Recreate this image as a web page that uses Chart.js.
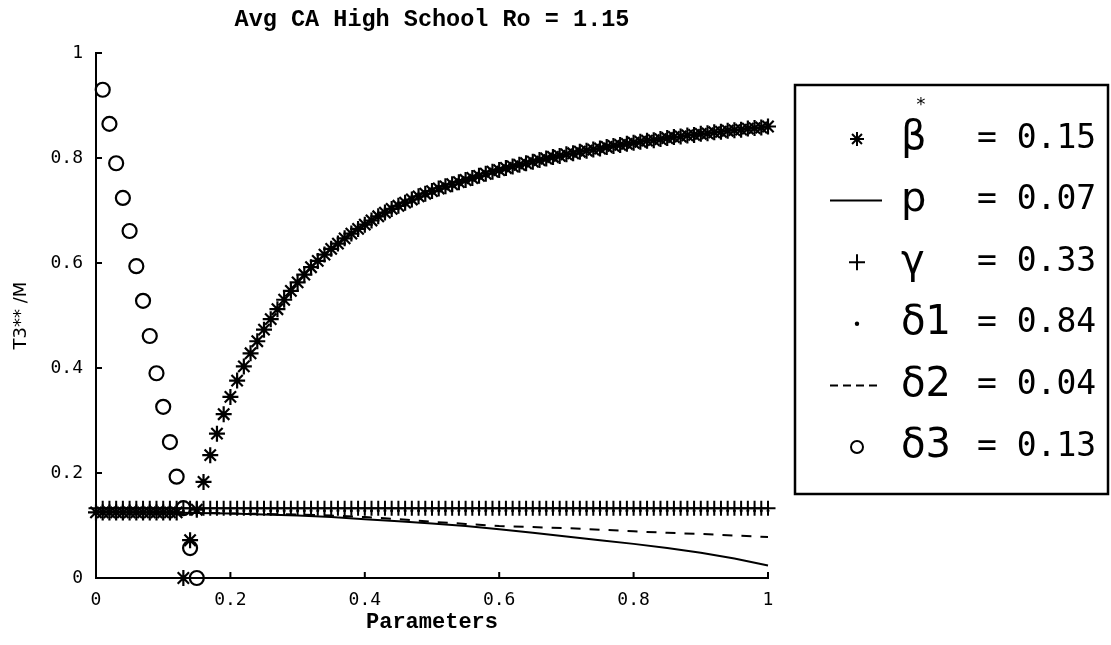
<!DOCTYPE html>
<html>
<head>
<meta charset="utf-8">
<script src="https://cdn.jsdelivr.net/npm/chart.js@4/dist/chart.umd.min.js"></script>
<style>
  html, body { margin: 0; padding: 0; background: #fff; }
  #wrap { width: 1111px; height: 645px; position: relative; }
</style>
</head>
<body>
<div id="wrap"><canvas id="t3-chart"></canvas></div>
<script>
// x grid the model was evaluated on (step 0.01)
const paramX = [
  0.00, 0.01, 0.02, 0.03, 0.04, 0.05, 0.06, 0.07, 0.08, 0.09,
  0.10, 0.11, 0.12, 0.13, 0.14, 0.15, 0.16, 0.17, 0.18, 0.19,
  0.20, 0.21, 0.22, 0.23, 0.24, 0.25, 0.26, 0.27, 0.28, 0.29,
  0.30, 0.31, 0.32, 0.33, 0.34, 0.35, 0.36, 0.37, 0.38, 0.39,
  0.40, 0.41, 0.42, 0.43, 0.44, 0.45, 0.46, 0.47, 0.48, 0.49,
  0.50, 0.51, 0.52, 0.53, 0.54, 0.55, 0.56, 0.57, 0.58, 0.59,
  0.60, 0.61, 0.62, 0.63, 0.64, 0.65, 0.66, 0.67, 0.68, 0.69,
  0.70, 0.71, 0.72, 0.73, 0.74, 0.75, 0.76, 0.77, 0.78, 0.79,
  0.80, 0.81, 0.82, 0.83, 0.84, 0.85, 0.86, 0.87, 0.88, 0.89,
  0.90, 0.91, 0.92, 0.93, 0.94, 0.95, 0.96, 0.97, 0.98, 0.99,
  1.00
]

// beta* (asterisks)
const betaStar = [
  0.125, 0.125, 0.125, 0.125, 0.125, 0.125, 0.125, 0.125, 0.125, 0.125,
  0.125, 0.125, 0.125, 0.000, 0.072, 0.130, 0.183, 0.234, 0.275, 0.312,
  0.345, 0.376, 0.403, 0.428, 0.451, 0.473, 0.493, 0.512, 0.530, 0.547,
  0.563, 0.578, 0.592, 0.604, 0.616, 0.627, 0.637, 0.647, 0.656, 0.665,
  0.673, 0.681, 0.689, 0.696, 0.703, 0.709, 0.715, 0.721, 0.727, 0.732,
  0.737, 0.742, 0.746, 0.750, 0.754, 0.758, 0.762, 0.766, 0.770, 0.774,
  0.777, 0.781, 0.784, 0.787, 0.790, 0.793, 0.796, 0.799, 0.802, 0.804,
  0.807, 0.809, 0.812, 0.814, 0.816, 0.818, 0.821, 0.823, 0.825, 0.827,
  0.829, 0.831, 0.833, 0.834, 0.836, 0.838, 0.840, 0.841, 0.843, 0.844,
  0.846, 0.847, 0.849, 0.850, 0.852, 0.853, 0.854, 0.856, 0.857, 0.858,
  0.860
]

// gamma (plus signs) - flat
const gammaVals = [
  0.133, 0.133, 0.133, 0.133, 0.133, 0.133, 0.133, 0.133, 0.133, 0.133,
  0.133, 0.133, 0.133, 0.133, 0.133, 0.133, 0.133, 0.133, 0.133, 0.133,
  0.133, 0.133, 0.133, 0.133, 0.133, 0.133, 0.133, 0.133, 0.133, 0.133,
  0.133, 0.133, 0.133, 0.133, 0.133, 0.133, 0.133, 0.133, 0.133, 0.133,
  0.133, 0.133, 0.133, 0.133, 0.133, 0.133, 0.133, 0.133, 0.133, 0.133,
  0.133, 0.133, 0.133, 0.133, 0.133, 0.133, 0.133, 0.133, 0.133, 0.133,
  0.133, 0.133, 0.133, 0.133, 0.133, 0.133, 0.133, 0.133, 0.133, 0.133,
  0.133, 0.133, 0.133, 0.133, 0.133, 0.133, 0.133, 0.133, 0.133, 0.133,
  0.133, 0.133, 0.133, 0.133, 0.133, 0.133, 0.133, 0.133, 0.133, 0.133,
  0.133, 0.133, 0.133, 0.133, 0.133, 0.133, 0.133, 0.133, 0.133, 0.133,
  0.133
]

// delta1 (dots) - sits on the flat band
const delta1Vals = [
  0.128, 0.128, 0.128, 0.128, 0.128, 0.128, 0.128, 0.128, 0.128, 0.128,
  0.128, 0.128, 0.128, 0.128, 0.128, 0.128, 0.128, 0.128, 0.128, 0.128,
  0.128, 0.128, 0.128, 0.128, 0.128, 0.128, 0.128, 0.128, 0.128, 0.128,
  0.128, 0.128, 0.128, 0.128, 0.128, 0.128, 0.128, 0.128, 0.128, 0.128,
  0.128, 0.128, 0.128, 0.128, 0.128, 0.128, 0.128, 0.128, 0.128, 0.128,
  0.128, 0.128, 0.128, 0.128, 0.128, 0.128, 0.128, 0.128, 0.128, 0.128,
  0.128, 0.128, 0.128, 0.128, 0.128, 0.128, 0.128, 0.128, 0.128, 0.128,
  0.128, 0.128, 0.128, 0.128, 0.128, 0.128, 0.128, 0.128, 0.128, 0.128,
  0.128, 0.128, 0.128, 0.128, 0.128, 0.128, 0.128, 0.128, 0.128, 0.128,
  0.128, 0.128, 0.128, 0.128, 0.128, 0.128, 0.128, 0.128, 0.128, 0.128,
  0.128
]

// p (solid) and delta2 (dashed), read every 0.05
const lineX = [0.00, 0.05, 0.10, 0.15, 0.20, 0.25, 0.30, 0.35, 0.40, 0.45, 0.50,
               0.55, 0.60, 0.65, 0.70, 0.75, 0.80, 0.85, 0.90, 0.95, 1.00]
const pVals = [0.126, 0.125, 0.125, 0.124, 0.123, 0.121, 0.119, 0.116, 0.112, 0.108, 0.104,
               0.099, 0.093, 0.086, 0.079, 0.072, 0.065, 0.057, 0.048, 0.037, 0.024]
const delta2Vals = [0.126, 0.125, 0.125, 0.124, 0.123, 0.122, 0.121, 0.119, 0.116, 0.112, 0.107,
                    0.103, 0.099, 0.097, 0.095, 0.092, 0.089, 0.086, 0.084, 0.081, 0.078]

// delta3 (circles)
const delta3X = [0.01, 0.02, 0.03, 0.04, 0.05, 0.06, 0.07, 0.08, 0.09, 0.10, 0.11, 0.12, 0.13, 0.14, 0.15]
const delta3Vals = [0.930, 0.865, 0.790, 0.724, 0.661, 0.594, 0.528, 0.461, 0.390, 0.326, 0.259, 0.193, 0.133, 0.057, 0.000]

const tickValues = [0, 0.2, 0.4, 0.6, 0.8, 1]
const tickLabels = ["0", "0.2", "0.4", "0.6", "0.8", "1"]

const legendNames = ["β", "p", "γ", "δ1", "δ2", "δ3"]
const legendValues = ["0.15", "0.07", "0.33", "0.84", "0.04", "0.13"]
const legendSymbols = ["star", "line", "cross", "dot", "dash", "circle"]

const titleText = "Avg CA High School Ro = 1.15"

const pts = (xs, ys) => xs.map((x, i) => ({ x: x, y: ys[i] }))

function drawSymbol(ctx, kind, x, y) {
  ctx.save()
  ctx.strokeStyle = "#000"
  ctx.fillStyle = "#000"
  ctx.lineWidth = 2
  ctx.beginPath()
  if (kind === "star") {
    const r = 7, d = r * Math.SQRT1_2
    ctx.moveTo(x - r, y); ctx.lineTo(x + r, y)
    ctx.moveTo(x, y - r); ctx.lineTo(x, y + r)
    ctx.moveTo(x - d, y - d); ctx.lineTo(x + d, y + d)
    ctx.moveTo(x - d, y + d); ctx.lineTo(x + d, y - d)
    ctx.stroke()
  } else if (kind === "line") {
    ctx.moveTo(830, y); ctx.lineTo(882, y); ctx.stroke()
  } else if (kind === "cross") {
    ctx.moveTo(x - 8, y); ctx.lineTo(x + 8, y)
    ctx.moveTo(x, y - 8); ctx.lineTo(x, y + 8)
    ctx.stroke()
  } else if (kind === "dot") {
    ctx.arc(x, y, 2.2, 0, Math.PI * 2); ctx.fill()
  } else if (kind === "dash") {
    ctx.setLineDash([8, 5])
    ctx.moveTo(830, y); ctx.lineTo(882, y); ctx.stroke()
  } else if (kind === "circle") {
    ctx.arc(x, y, 6, 0, Math.PI * 2); ctx.stroke()
  }
  ctx.restore()
}

// title, inward ticks and the boxed legend, MATLAB style
const matlabDecor = {
  id: "matlabDecor",
  afterDraw(chart) {
    const { ctx, chartArea, scales } = chart
    ctx.save()
    ctx.strokeStyle = "#000"
    ctx.lineWidth = 2
    ctx.beginPath()
    tickValues.forEach((v) => {
      const px = scales.x.getPixelForValue(v)
      ctx.moveTo(px, chartArea.bottom); ctx.lineTo(px, chartArea.bottom - 6)
      const py = scales.y.getPixelForValue(v)
      ctx.moveTo(chartArea.left, py); ctx.lineTo(chartArea.left + 6, py)
    })
    ctx.stroke()

    ctx.fillStyle = "#000"
    ctx.font = "bold 23.5px 'Liberation Mono'"
    ctx.textAlign = "center"
    ctx.textBaseline = "alphabetic"
    ctx.fillText(titleText, (chartArea.left + chartArea.right) / 2, 26)

    ctx.lineWidth = 2.5
    ctx.strokeRect(795, 85, 313, 409)

    legendNames.forEach((name, i) => {
      const y = 139 + i * 61.6
      drawSymbol(ctx, legendSymbols[i], 857, y)
      ctx.textAlign = "left"
      ctx.textBaseline = "middle"
      ctx.font = "40px 'DejaVu Sans'"
      ctx.fillText(name, 901, y)
      ctx.font = "33px 'DejaVu Sans Mono'"
      ctx.fillText("= " + legendValues[i], 977, y)
    })
    ctx.font = "18px 'DejaVu Sans Mono'"
    ctx.textAlign = "center"
    ctx.fillText("*", 921, 105)
    ctx.restore()
  },
}

const tickOpts = {
  font: { family: "'DejaVu Sans Mono'", size: 18 },
  color: "#000",
  autoSkip: false,
  maxRotation: 0,
  callback: (value) => {
    const i = tickValues.findIndex((t) => Math.abs(t - value) < 1e-9)
    return i >= 0 ? tickLabels[i] : ""
  },
}

new Chart(document.getElementById("t3-chart"), {
  type: "scatter",
  data: {
    datasets: [
      {
        label: "β*",
        data: pts(paramX, betaStar),
        pointStyle: "star",
        pointRadius: 8,
        borderColor: "#000",
        borderWidth: 2.2,
        clip: false,
      },
      {
        label: "p",
        type: "line",
        data: pts(lineX, pVals),
        borderColor: "#000",
        borderWidth: 2,
        pointRadius: 0,
        tension: 0,
        clip: false,
      },
      {
        label: "γ",
        data: pts(paramX, gammaVals),
        pointStyle: "cross",
        pointRadius: 7.5,
        borderColor: "#000",
        borderWidth: 2,
        clip: false,
      },
      {
        label: "δ1",
        data: pts(paramX, delta1Vals),
        pointStyle: "circle",
        pointRadius: 1.5,
        borderWidth: 0,
        backgroundColor: "#000",
        clip: false,
      },
      {
        label: "δ2",
        type: "line",
        data: pts(lineX, delta2Vals),
        borderColor: "#000",
        borderWidth: 2,
        borderDash: [10, 9],
        pointRadius: 0,
        tension: 0,
        clip: false,
      },
      {
        label: "δ3",
        data: pts(delta3X, delta3Vals),
        pointStyle: "circle",
        pointRadius: 7,
        borderColor: "#000",
        borderWidth: 2.2,
        backgroundColor: "rgba(0,0,0,0)",
        clip: false,
      },
    ],
  },
  options: {
    responsive: true,
    maintainAspectRatio: false,
    animation: false,
    devicePixelRatio: 1,
    layout: { padding: { left: 0, right: 343, top: 53, bottom: 0 } },
    plugins: {
      legend: { display: false },
      tooltip: { enabled: false },
      title: { display: false },
    },
    scales: {
      x: {
        type: "linear",
        min: 0,
        max: 1,
        afterFit: (scale) => { scale.height = 67 },
        afterBuildTicks: (scale) => { scale.ticks = tickValues.map((v) => ({ value: v })) },
        grid: { display: false, drawTicks: false },
        border: { display: true, color: "#000", width: 2 },
        ticks: { ...tickOpts, padding: 12 },
        title: {
          display: true,
          text: "Parameters",
          color: "#000",
          font: { family: "'Liberation Mono'", size: 22, weight: "bold" },
          padding: { top: 0, bottom: 9 },
        },
      },
      y: {
        type: "linear",
        min: 0,
        max: 1,
        afterFit: (scale) => { scale.width = 96 },
        afterBuildTicks: (scale) => { scale.ticks = tickValues.map((v) => ({ value: v })) },
        grid: { display: false, drawTicks: false },
        border: { display: true, color: "#000", width: 2 },
        ticks: { ...tickOpts, padding: 13 },
        title: {
          display: true,
          text: "T3** /M",
          color: "#000",
          font: { family: "'DejaVu Sans'", size: 18 },
          padding: { top: 11, bottom: 0 },
        },
      },
    },
  },
  plugins: [matlabDecor],
})
</script>
</body>
</html>
